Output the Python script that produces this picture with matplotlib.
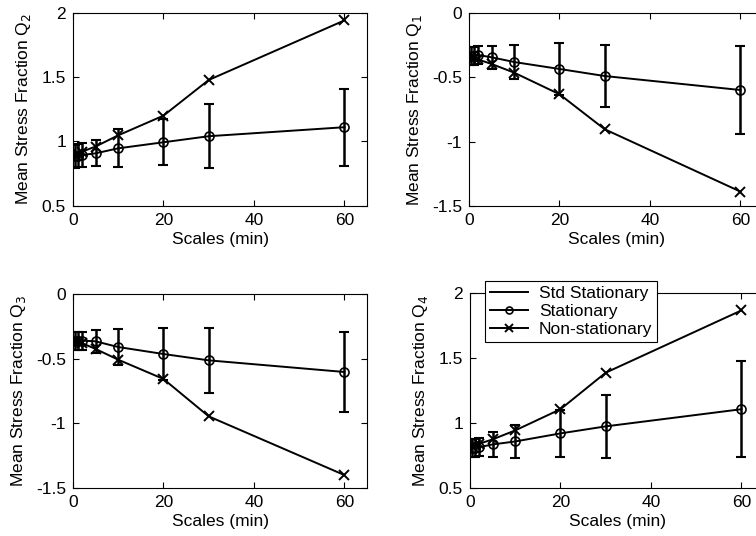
import matplotlib
matplotlib.use("Agg")
import matplotlib.pyplot as plt
from matplotlib.lines import Line2D

plt.rcParams['font.family'] = ['Liberation Sans', 'DejaVu Sans']

scales = [0.5, 1, 2, 5, 10, 20, 30, 60]

q2_stat = [0.885, 0.89, 0.894, 0.907, 0.946, 0.993, 1.04, 1.11]
q2_std = [0.09, 0.09, 0.09, 0.10, 0.147, 0.18, 0.247, 0.30]
q2_nonstat = [0.89, 0.905, 0.92, 0.96, 1.047, 1.20, 1.477, 1.94]

q1_stat = [-0.33, -0.33, -0.325, -0.343, -0.38, -0.434, -0.489, -0.598]
q1_std = [0.07, 0.07, 0.07, 0.09, 0.13, 0.20, 0.24, 0.345]
q1_nonstat = [-0.34, -0.35, -0.36, -0.395, -0.463, -0.631, -0.904, -1.39]

q3_stat = [-0.36, -0.36, -0.36, -0.366, -0.41, -0.464, -0.513, -0.603]
q3_std = [0.07, 0.07, 0.07, 0.09, 0.14, 0.20, 0.25, 0.31]
q3_nonstat = [-0.36, -0.37, -0.38, -0.425, -0.508, -0.657, -0.946, -1.40]

q4_stat = [0.81, 0.81, 0.814, 0.835, 0.858, 0.92, 0.974, 1.106]
q4_std = [0.07, 0.07, 0.07, 0.095, 0.125, 0.18, 0.245, 0.37]
q4_nonstat = [0.82, 0.83, 0.84, 0.874, 0.943, 1.106, 1.387, 1.866]

panels = [
    ("Mean Stress Fraction Q$_2$", q2_stat, q2_std, q2_nonstat, (0.5, 2), [0.5, 1, 1.5, 2], ["0.5", "1", "1.5", "2"]),
    ("Mean Stress Fraction Q$_1$", q1_stat, q1_std, q1_nonstat, (-1.5, 0), [-1.5, -1, -0.5, 0], ["-1.5", "-1", "-0.5", "0"]),
    ("Mean Stress Fraction Q$_3$", q3_stat, q3_std, q3_nonstat, (-1.5, 0), [-1.5, -1, -0.5, 0], ["-1.5", "-1", "-0.5", "0"]),
    ("Mean Stress Fraction Q$_4$", q4_stat, q4_std, q4_nonstat, (0.5, 2), [0.5, 1, 1.5, 2], ["0.5", "1", "1.5", "2"]),
]
legend_labels = ["Std Stationary", "Stationary", "Non-stationary"]
xticks = [0, 20, 40, 60]
xlabel = "Scales (min)"

W, H = 756, 536
fig = plt.figure(figsize=(W / 100, H / 100), dpi=100)

# pixel boxes: left, top, width, height
boxes = [(73, 12.7, 294, 193), (469, 13.3, 294, 192.4), (73, 294, 294, 194), (470, 293, 294, 195)]

axes = []
for (lbl, st, sd, ns, ylim, yt, ytl), (l, t, w, h) in zip(panels, boxes):
    ax = fig.add_axes([l / W, (H - t - h) / H, w / W, h / H])
    ax.errorbar(scales, st, yerr=sd, fmt='none', ecolor='black', elinewidth=1.8, capsize=3.5, capthick=1.5, zorder=2)
    ax.plot(scales, st, color='black', lw=1.4, marker='o', ms=6.5, mfc='none', mec='black', mew=1.2, zorder=3)
    ax.plot(scales, ns, color='black', lw=1.4, marker='x', ms=7, mec='black', mew=1.4, zorder=3)
    ax.set_xlim(0, 65)
    ax.set_ylim(*ylim)
    ax.set_xticks(xticks)
    ax.set_yticks(yt)
    ax.set_yticklabels(ytl)
    ax.tick_params(direction='in', top=True, right=True, length=4, width=0.8, labelsize=12.5, pad=5)
    ax.set_xlabel(xlabel, fontsize=12.5, labelpad=3)
    ax.set_ylabel(lbl, fontsize=12.5, labelpad=6)
    for s in ax.spines.values():
        s.set_linewidth(0.8)
    axes.append(ax)

handles = [
    Line2D([], [], color='black', lw=1.4),
    Line2D([], [], color='black', lw=1.4, marker='o', ms=5, mfc='none', mew=1.2),
    Line2D([], [], color='black', lw=1.4, marker='x', ms=6, mew=1.4),
]
leg = fig.legend(handles, legend_labels, loc='upper left',
                 bbox_to_anchor=(485 / W, (H - 281) / H), fontsize=12.5,
                 frameon=True, fancybox=False, edgecolor='black', framealpha=1,
                 handlelength=2.2, handletextpad=0.6, borderpad=0.3, labelspacing=0.15,
                 borderaxespad=0)
leg.get_frame().set_linewidth(0.8)

fig.savefig("out.png", dpi=100)
